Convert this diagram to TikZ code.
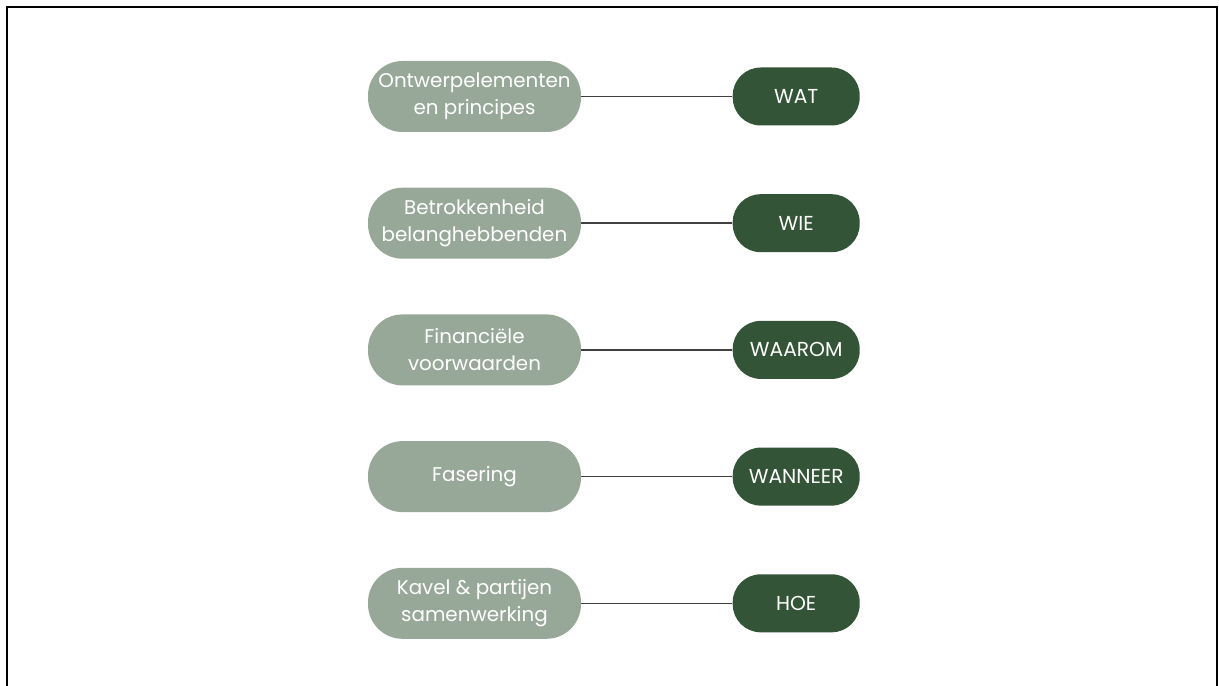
\documentclass[tikz,border=0pt]{standalone}
\usepackage{fontspec}
\setmainfont{Poppins}
\usepackage{xcolor}
\usetikzlibrary{positioning}
\definecolor{sage}{RGB}{152,168,152}
\definecolor{forest}{RGB}{51,84,54}
\tikzset{
  topic/.style={
    rectangle, rounded corners=0.69cm, draw=none, fill=sage,
    minimum width=4.26cm, minimum height=1.42cm, inner sep=0pt,
    align=center, text=white,
    font=\fontsize{11.3}{15.4}\selectfont
  },
  question/.style={
    rectangle, rounded corners=0.56cm, draw=none, fill=forest,
    minimum width=2.54cm, minimum height=1.16cm, inner sep=0pt,
    align=center, text=white,
    font=\fontsize{11.5}{13}\selectfont
  },
  link/.style={line width=0.8pt, draw=black!75},
  frame/.style={line width=1.1pt, draw=black}
}

\begin{document}
\begin{tikzpicture}[node distance=1.1cm and 3.02cm]
  \useasboundingbox (0,0) rectangle (24.38,-13.72);
  % open frame (no bottom edge)
  \draw[frame] (0.14,-13.72) -- (0.14,-0.14) -- (24.34,-0.14) -- (24.34,-13.72);

  % topics on the left
  \node[topic] (design) at (9.49,-1.93) {Ontwerpelementen\\en principes};
  \node[topic, below=of design] (stake) {Betrokkenheid\\belanghebbenden};
  \node[topic, below=of stake] (finance) {Financiële\\voorwaarden};
  \node[topic, below=of finance] (phase) {Fasering};
  \node[topic, below=of phase] (plot) {Kavel \& partijen\\samenwerking};

  % questions on the right
  \node[question, right=of design] (wat) {WAT};
  \node[question, right=of stake] (wie) {WIE};
  \node[question, right=of finance] (waarom) {WAAROM};
  \node[question, right=of phase] (wanneer) {WANNEER};
  \node[question, right=of plot] (hoe) {HOE};

  \draw[link] (design) -- (wat);
  \draw[link] (stake) -- (wie);
  \draw[link] (finance) -- (waarom);
  \draw[link] (phase) -- (wanneer);
  \draw[link] (plot) -- (hoe);
\end{tikzpicture}
\end{document}
